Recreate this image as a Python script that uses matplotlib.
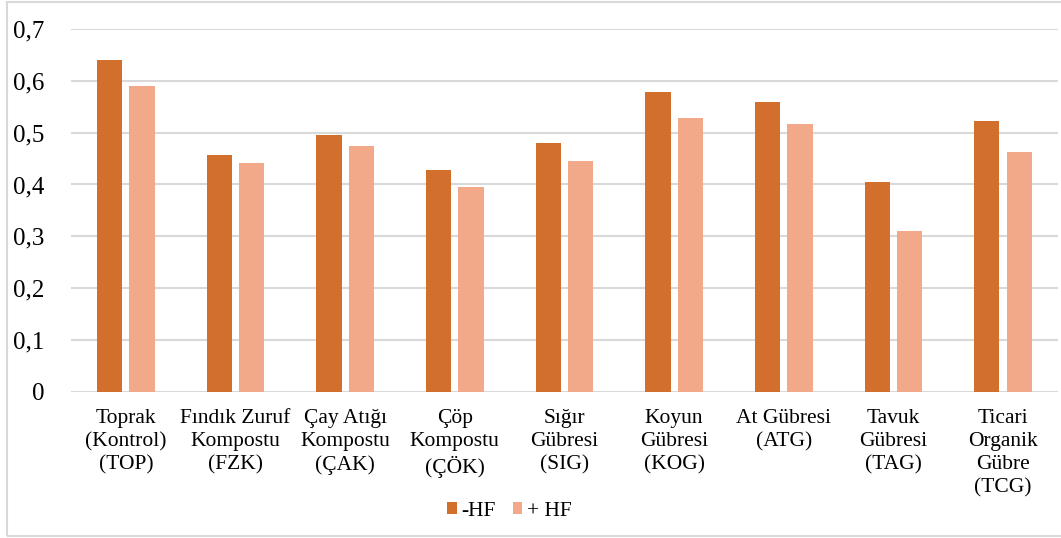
import numpy as np
import matplotlib.pyplot as plt
from matplotlib.patches import Rectangle

# Categories and values
categories = [
    "Toprak\n(Kontrol)\n(TOP)",
    "Fındık Zuruf\nKompostu\n(FZK)",
    "Çay Atığı\nKompostu\n(ÇAK)",
    "Çöp\nKompostu\n(ÇÖK)",
    "Sığır\nGübresi\n(SIG)",
    "Koyun\nGübresi\n(KOG)",
    "At Gübresi\n(ATG)",
    "Tavuk\nGübresi\n(TAG)",
    "Ticari\nOrganik\nGübre\n(TCG)",
]
minus_hf = [0.640, 0.457, 0.495, 0.428, 0.480, 0.578, 0.559, 0.404, 0.522]
plus_hf = [0.589, 0.441, 0.474, 0.395, 0.445, 0.529, 0.516, 0.311, 0.463]
y_ticks = [0, 0.1, 0.2, 0.3, 0.4, 0.5, 0.6, 0.7]
y_tick_labels = ["0", "0,1", "0,2", "0,3", "0,4", "0,5", "0,6", "0,7"]

plt.rcParams["font.family"] = ["Liberation Serif", "DejaVu Serif"]

fig = plt.figure(figsize=(10.61, 5.38), dpi=100)
ax = fig.add_axes([0.067, 0.2714, 0.93, 0.675])

x = np.arange(len(categories))
w = 0.23
gap = 0.065
ax.bar(x - (w + gap) / 2, minus_hf, w, color="#D36F2C", label="-HF", zorder=3)
ax.bar(x + (w + gap) / 2, plus_hf, w, color="#F1A98A", label="+ HF", zorder=3)

ax.set_xlim(-0.5, len(categories) - 0.5)
ax.set_ylim(0, 0.7)
ax.set_yticks(y_ticks)
ax.set_yticklabels(y_tick_labels, fontsize=18)
ax.set_xticks(x)
ax.set_xticklabels(categories, fontsize=15.5, linespacing=1.3, va="top")
ax.tick_params(axis="both", length=0)
ax.tick_params(axis="y", pad=19)
ax.tick_params(axis="x", pad=12)
ax.grid(axis="y", color="#d9d9d9", linewidth=1.5, zorder=0)
for s in ax.spines.values():
    s.set_visible(False)

fig.legend(loc="center", bbox_to_anchor=(0.48, 0.05), ncol=2, frameon=False,
           fontsize=15.5, handlelength=0.45, handleheight=0.5, handletextpad=0.2,
           columnspacing=0.8)

# thin border around the whole chart
fig.patches.append(Rectangle((0.007, 0.004), 0.998, 0.992, transform=fig.transFigure,
                             fill=False, edgecolor="#d9d9d9", linewidth=1.5))

fig.savefig("out.png", dpi=100)
